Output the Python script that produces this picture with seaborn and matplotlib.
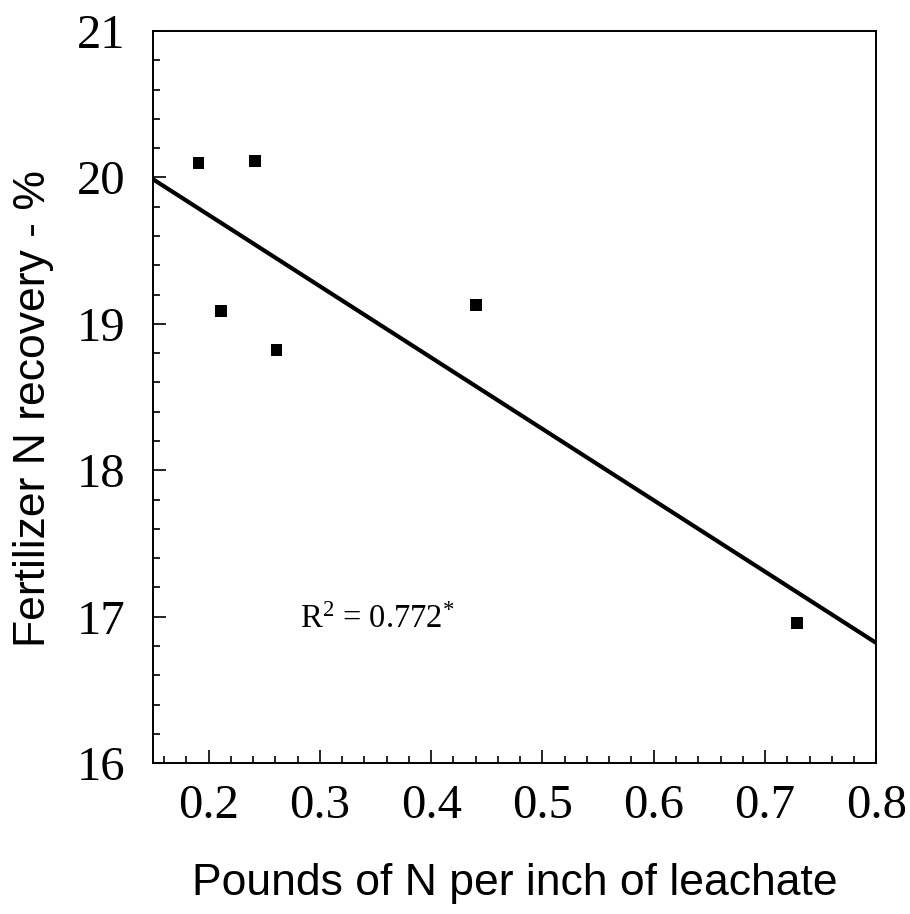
import numpy as np
import pandas as pd
import matplotlib
matplotlib.use("Agg")
import matplotlib.pyplot as plt
from matplotlib.ticker import MultipleLocator
import seaborn as sns

# Leachate N concentration vs. fertilizer N recovery
n_per_inch = [0.191, 0.242, 0.211, 0.261, 0.440, 0.729]
n_recovery = [20.10, 20.11, 19.09, 18.82, 19.13, 16.96]
r2_label = r"R$^{2}$ = 0.772$^{*}$"

x_ticks = [0.2, 0.3, 0.4, 0.5, 0.6, 0.7, 0.8]
y_ticks = [16, 17, 18, 19, 20, 21]

sns.set_style("ticks")
plt.rcParams["font.family"] = ["Liberation Serif", "DejaVu Serif"]
plt.rcParams["mathtext.fontset"] = "custom"
plt.rcParams["mathtext.rm"] = "Liberation Serif"
plt.rcParams["mathtext.it"] = "Liberation Serif"
plt.rcParams["text.color"] = "black"
plt.rcParams["axes.labelcolor"] = "black"

df = pd.DataFrame({"x": n_per_inch, "y": n_recovery})

fig = plt.figure(figsize=(9.10, 9.14), dpi=100)
ax = fig.add_axes([0.168, 0.165, 0.795, 0.801])
ax.set_xlim(0.15, 0.8)
ax.set_ylim(16, 21)

# least-squares fit spanning the full x range, with square markers
sns.regplot(data=df, x="x", y="y", ax=ax, ci=None, truncate=False,
            marker="s",
            scatter_kws={"s": 72, "color": "black", "alpha": 1,
                         "edgecolors": "none"},
            line_kws={"color": "black", "lw": 3.0})

ax.set_xlim(0.15, 0.8)
ax.set_ylim(16, 21)
ax.set_xticks(x_ticks)
ax.set_xticklabels([f"{v:.1f}" for v in x_ticks])
ax.set_yticks(y_ticks)
ax.set_yticklabels([str(v) for v in y_ticks])
ax.xaxis.set_minor_locator(MultipleLocator(0.02))
ax.yaxis.set_minor_locator(MultipleLocator(0.2))

ax.tick_params(axis="both", which="major", direction="in", length=9.5,
               width=1.2, labelsize=35, color="black", labelcolor="black")
ax.tick_params(axis="both", which="minor", direction="in", length=5,
               width=1.2, color="black")
ax.tick_params(axis="x", which="major", pad=15)
ax.tick_params(axis="y", which="major", pad=20)
ax.tick_params(top=False, right=False, which="both")

for side in ["left", "right", "top", "bottom"]:
    ax.spines[side].set_visible(True)
    ax.spines[side].set_linewidth(1.4)
    ax.spines[side].set_color("black")

ax.set_xlabel("Pounds of N per inch of leachate", family="Liberation Sans",
              fontsize=32, labelpad=25)
ax.set_ylabel("Fertilizer N recovery - %", family="Liberation Sans",
              fontsize=32)
ax.yaxis.set_label_coords(-0.136, 0.485)

ax.text(0.282, 16.98, r2_label, fontsize=23.5, va="center", ha="left")

fig.savefig("out.png", dpi=100, facecolor="white")
